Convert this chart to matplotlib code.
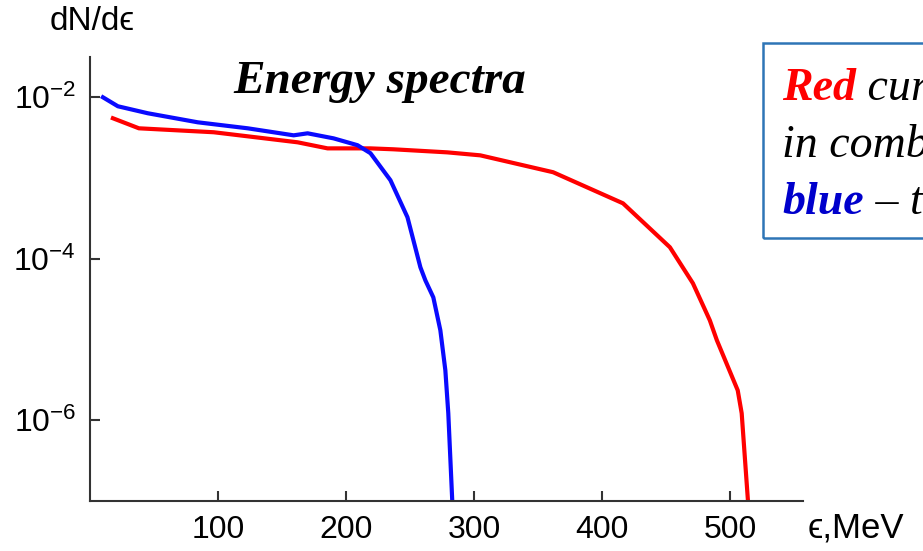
import matplotlib
matplotlib.use("Agg")
import matplotlib.pyplot as plt
from matplotlib.patches import Rectangle

plt.rcParams["mathtext.fontset"] = "custom"
plt.rcParams["mathtext.rm"] = "Liberation Sans"
plt.rcParams["mathtext.it"] = "Liberation Sans:italic"
plt.rcParams["font.family"] = ["Liberation Sans", "DejaVu Sans"]

# energy (MeV) vs dN/de
red_e = [17.9, 38.2, 96.7, 162.2, 185.6, 219.1, 237.0, 279.1, 304.9,
         361.8, 416.4, 453.0, 471.0, 484.2, 489.7, 506.0, 509.1, 514.0]
red_n = [5.5e-3, 4.13e-3, 3.69e-3, 2.77e-3, 2.33e-3, 2.33e-3, 2.27e-3,
         2.08e-3, 1.91e-3, 1.18e-3, 4.86e-4, 1.39e-4, 4.97e-5, 1.73e-5,
         9.8e-6, 2.35e-6, 1.22e-6, 1.0e-7]

blue_e = [10.1, 21.8, 45.2, 84.2, 123.2, 159.1, 170.0, 190.3, 209.0, 219.1,
          234.7, 248.0, 258.1, 262.0, 268.2, 273.7, 277.6, 279.9, 283.0]
blue_n = [1.0e-2, 7.74e-3, 6.34e-3, 4.9e-3, 4.13e-3, 3.38e-3, 3.58e-3,
          3.1e-3, 2.55e-3, 2.03e-3, 9.4e-4, 3.27e-4, 7.85e-5, 5.4e-5,
          3.33e-5, 1.3e-5, 4.16e-6, 1.22e-6, 1.0e-7]

x_ticks = [100, 200, 300, 400, 500]
y_ticks = [1e-6, 1e-4, 1e-2]
y_tick_labels = [r"$10^{-6}$", r"$10^{-4}$", r"$10^{-2}$"]

fig = plt.figure(figsize=(9.23, 5.51), dpi=100)
ax = fig.add_axes([0.0975, 0.0907, 0.7725, 0.806])

ax.plot(red_e, red_n, color="#ff0000", lw=3, solid_joinstyle="round")
ax.plot(blue_e, blue_n, color="#0a0aff", lw=3, solid_joinstyle="round")

ax.set_yscale("log")
ax.set_xlim(0, 557)
ax.set_ylim(1e-7, 10 ** -1.5)
ax.set_xticks(x_ticks)
ax.set_yticks(y_ticks)
ax.set_yticklabels(y_tick_labels)
ax.minorticks_off()
for s in ("top", "right"):
    ax.spines[s].set_visible(False)
for s in ("left", "bottom"):
    ax.spines[s].set_color("#333333")
    ax.spines[s].set_linewidth(1.5)
ax.tick_params(direction="in", length=7, width=1.5, color="#333333",
               labelsize=23, pad=10)

fig.text(92 / 923, 1 - 22 / 551, "dN/d\u03f5", fontsize=24,
         ha="center", va="center")
fig.text(808 / 923, 1 - 528 / 551, "\u03f5,MeV", fontsize=25,
         ha="left", va="center")

fig.text(380 / 923, 1 - 82 / 551, "Energy spectra", fontsize=34,
         family="Liberation Serif", style="italic", weight="bold",
         ha="center", va="center")

# note box, running off the right edge as in the reference
fig.patches.append(Rectangle((763 / 923, 1 - 238 / 551), 0.4, 195 / 551,
                             transform=fig.transFigure, fill=False,
                             edgecolor="#2e75b6", lw=1.8))
lines = [
    [("Red", "#ff0000", "bold"), (" curve \u2013 electrons", "black", "normal")],
    [("in combined field,", "black", "normal")],
    [("blue", "#0000cc", "bold"), (" \u2013 the laser only", "black", "normal")],
]
baselines = [100, 157, 214]
for parts, yb in zip(lines, baselines):
    last = None
    for txt, col, wt in parts:
        kw = dict(fontsize=33, family="Liberation Serif", style="italic",
                  weight=wt, color=col)
        if last is None:
            last = fig.text(782 / 923, 1 - yb / 551, txt, ha="left",
                            va="baseline", **kw)
        else:
            last = ax.annotate(txt, xy=(1, 0), xycoords=last, ha="left",
                               va="bottom", annotation_clip=False, **kw)

fig.savefig("out.png", dpi=100)
